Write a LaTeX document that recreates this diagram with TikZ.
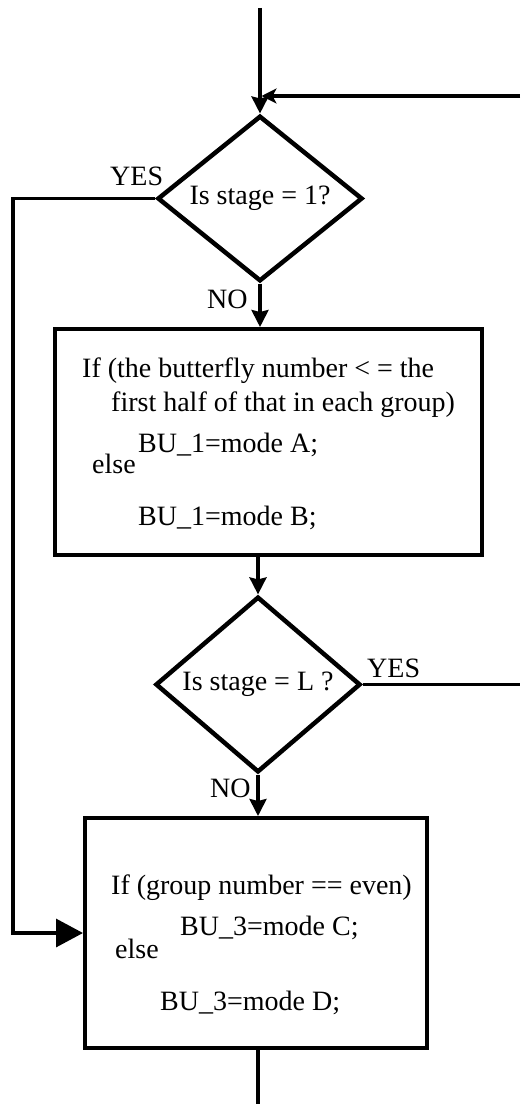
\documentclass[tikz,border=0pt]{standalone}
\usepackage{fontspec}
\setmainfont{Liberation Serif}
\usetikzlibrary{shapes.geometric,arrows.meta}
\begin{document}
\begin{tikzpicture}[x=1pt,y=-1pt,
  every node/.style={font=\fontsize{28}{34}\selectfont},
  dia/.style={draw,diamond,line width=4.5pt,inner sep=0pt,minimum width=205pt,minimum height=137pt},
  procbox/.style={draw,rectangle,line width=4pt,inner sep=0pt},
  txt/.style={anchor=base west,inner sep=0pt},
  conn/.style={line width=3.3pt},
  downarr/.style={conn,-{Stealth[length=17pt,width=17pt,inset=2pt]}},
  fbarr/.style={conn,-{Stealth[length=15pt,width=15pt,inset=4pt]}},
  bigarr/.style={conn,-{Triangle[length=27pt,width=28pt]}}
]
\useasboundingbox (0,0) rectangle (520,1108);
% shapes
\node[dia] (d1) at (260,198.5) {Is stage = 1?};
\node[procbox,minimum width=427pt,minimum height=226pt] (b1) at (268.5,442) {};
\node[dia] (d2) at (258,684.5) {Is stage = L ?};
\node[procbox,minimum width=342pt,minimum height=230pt] (b2) at (256,933) {};
% texts of box 1
\node[txt] (t11) at (82,377) {If (the butterfly number < = the};
\node[txt] (t12) at (111,411) {first half of that in each group)};
\node[txt] (t13) at (138,452) {BU\_1=mode A;};
\node[txt] (t14) at (92,473) {else};
\node[txt] (t15) at (138,525) {BU\_1=mode B;};
% texts of box 2
\node[txt] (t21) at (111,894) {If (group number == even)};
\node[txt] (t22) at (180,935) {BU\_3=mode C;};
\node[txt] (t23) at (115,958) {else};
\node[txt] (t24) at (160,1010) {BU\_3=mode D;};
% branch labels
\node[txt] (yes1) at (110,185) {YES};
\node[txt] (no1) at (207,308) {NO};
\node[txt] (yes2) at (367,677) {YES};
\node[txt] (no2) at (210,797) {NO};
% free ends
\coordinate (top) at (260,8);
\coordinate (fbin) at (520,96);
\coordinate (fbend) at (261.5,96);
\coordinate (rout) at (520,684.5);
\coordinate (lc) at (13,198.5);
\coordinate (bot) at (258,1104);
% connectors
\draw[downarr] (top) -- (d1.north);
\draw[fbarr] (fbin) -- (fbend);
\draw[downarr] (d1.south) -- (d1.south |- b1.north);
\draw[downarr] (b1.south -| d2.north) -- (d2.north);
\draw[conn] (d2.east) -- (rout);
\draw[downarr] (d2.south) -- (d2.south |- b2.north);
\draw[bigarr] (d1.west) -- (lc) |- (b2.west);
\draw[conn] (b2.south -| bot) -- (bot);
\end{tikzpicture}
\end{document}
